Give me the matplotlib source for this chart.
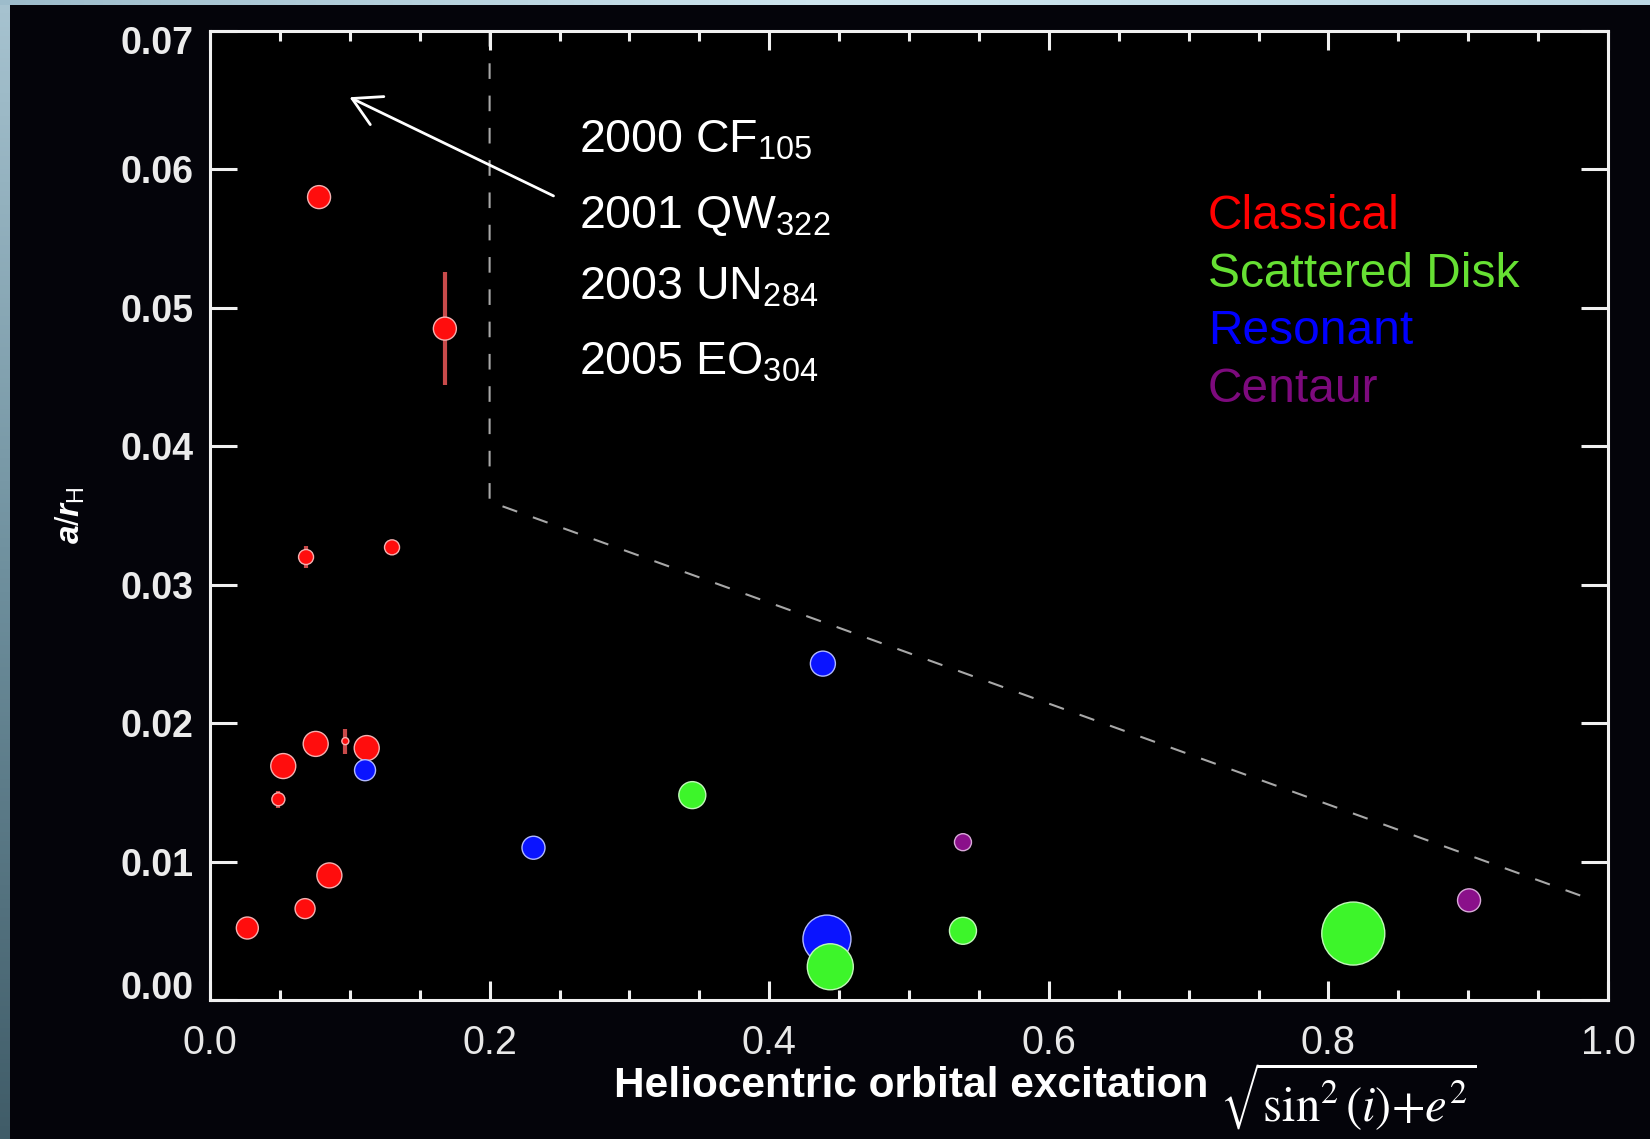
import numpy as np
import matplotlib
matplotlib.use("Agg")
import matplotlib.pyplot as plt
from matplotlib.transforms import ScaledTranslation

# Fonts
plt.rcParams['font.family'] = ['Liberation Sans', 'DejaVu Sans']
plt.rcParams['mathtext.fontset'] = 'custom'
plt.rcParams['mathtext.rm'] = 'Liberation Sans'
plt.rcParams['mathtext.it'] = 'Liberation Sans:italic:bold'
plt.rcParams['mathtext.bf'] = 'Liberation Sans:bold'

# Orbital excitation (x), a/r_H (y), error on a/r_H, relative marker size
classical_x = [0.078, 0.168, 0.0687, 0.1302, 0.0756, 0.0968, 0.1121, 0.0524, 0.0489, 0.0854, 0.068, 0.0267]
classical_y = [0.0580, 0.0485, 0.0320, 0.0327, 0.0185, 0.0187, 0.0182, 0.0169, 0.0145, 0.0090, 0.0066, 0.0052]
classical_err = [0, 0.0041, 0.0008, 0, 0, 0.0009, 0, 0, 0.0006, 0, 0, 0]
classical_size = [23, 23, 15, 15, 25, 7, 25, 25, 13, 25, 20, 22]

resonant_x = [0.1109, 0.4384, 0.2314, 0.4413]
resonant_y = [0.0166, 0.0243, 0.0110, 0.0044]
resonant_size = [21, 25, 23, 48]

scattered_x = [0.345, 0.5386, 0.4437, 0.8178]
scattered_y = [0.0148, 0.0050, 0.0024, 0.0048]
scattered_size = [27, 27, 46, 63]

centaur_x = [0.5386, 0.9006]
centaur_y = [0.0114, 0.0072]
centaur_size = [17, 23]

# Stability boundary (dashed)
boundary_x = [0.2, 0.2, 0.987]
boundary_y = [0.07, 0.036, 0.0073]

# Off-scale objects and the arrow pointing towards them
offscale_names = [r'2000 CF$_{\mathregular{105}}$', r'2001 QW$_{\mathregular{322}}$',
                  r'2003 UN$_{\mathregular{284}}$', r'2005 EO$_{\mathregular{304}}$']
arrow_tail = (0.2475, 0.0580)
arrow_head = (0.098, 0.0653)

groups = ['Classical', 'Scattered Disk', 'Resonant', 'Centaur']
group_colors = ['#ff0000', '#66e033', '#0000ff', '#7d0a7d']

x_ticks = [0.0, 0.2, 0.4, 0.6, 0.8, 1.0]
y_ticks = [0.00, 0.01, 0.02, 0.03, 0.04, 0.05, 0.06, 0.07]

W, H = 1650, 1139
fig = plt.figure(figsize=(W / 100, H / 100), dpi=100, facecolor='#04040a')

# slide border strips
grad = np.linspace(0, 1, 256).reshape(-1, 1)
sx = fig.add_axes([0, 0, 10 / W, 1])
sx.imshow(grad, aspect='auto', cmap=matplotlib.colors.LinearSegmentedColormap.from_list(
    'l', ['#a7c3d0', '#6f909e', '#405c68']), extent=[0, 1, 0, 1])
sx.axis('off')
tx = fig.add_axes([0, 1 - 5 / H, 1, 5 / H])
tx.imshow(grad.T, aspect='auto', cmap=matplotlib.colors.LinearSegmentedColormap.from_list(
    't', ['#9dbccb', '#cfe6ef', '#bcd8e4']), extent=[0, 1, 0, 1])
tx.axis('off')

ax = fig.add_axes([210 / W, 1 - 1000 / H, 1398 / W, 969 / H])
ax.set_facecolor('#000000')


def to_area(sizes):
    return [(d * 0.72) ** 2 for d in sizes]


# error bars first, then markers
ex = [x for x, e in zip(classical_x, classical_err) if e > 0]
ey = [y for y, e in zip(classical_y, classical_err) if e > 0]
ee = [e for e in classical_err if e > 0]
ax.errorbar(ex, ey, yerr=ee, fmt='none', ecolor='#c84a4a', elinewidth=3, capsize=0, zorder=2)

ax.scatter(classical_x, classical_y, s=to_area(classical_size), c='#ff0d0d',
           edgecolors='#f4b0b0', linewidths=1, zorder=3)
ax.scatter(resonant_x, resonant_y, s=to_area(resonant_size), c='#0a14ff',
           edgecolors='#b0b8ff', linewidths=1, zorder=4)
ax.scatter(scattered_x, scattered_y, s=to_area(scattered_size), c='#3df52a',
           edgecolors='#c0f8b8', linewidths=1, zorder=5)
ax.scatter(centaur_x, centaur_y, s=to_area(centaur_size), c='#8a108a',
           edgecolors='#d8a8d8', linewidths=1, zorder=6)

ax.plot(boundary_x, boundary_y, color='#a8a8a8', lw=1.5, dashes=(7.5, 8), zorder=1)

ax.annotate('', xy=arrow_head, xytext=arrow_tail,
            arrowprops=dict(arrowstyle='->,head_length=0.5,head_width=0.28',
                            color='white', lw=2, mutation_scale=40))

name_y = [0.8741, 0.7967, 0.7224, 0.645]
for name, yy in zip(offscale_names, name_y):
    ax.text(0.264, yy, name, transform=ax.transAxes, color='white',
            fontsize=33.5, ha='left', va='baseline')

legend_y = [0.7957, 0.7358, 0.6770, 0.6171]
for g, col, yy in zip(groups, group_colors, legend_y):
    ax.text(0.7139, yy, g, transform=ax.transAxes, color=col,
            fontsize=34.5, ha='left', va='baseline')

# axes styling
ax.set_xlim(0, 1.0)
ax.set_ylim(0, 0.07)
ax.set_xticks(x_ticks)
ax.set_xticks(np.arange(0.05, 1.0, 0.05), minor=True)
ax.set_yticks(y_ticks)
ax.set_xticklabels([f'{v:.1f}' for v in x_ticks])
ax.set_yticklabels([f'{v:.2f}' for v in y_ticks])
for sp in ax.spines.values():
    sp.set_color('#f0f0f0')
    sp.set_linewidth(2.2)
ax.tick_params(axis='x', which='major', direction='in', length=14, width=2.2,
               top=True, bottom=True, color='#f0f0f0', labelcolor='#e8e8e8',
               labelsize=28.5, pad=17)
ax.tick_params(axis='x', which='minor', direction='in', length=7, width=2.2,
               top=True, bottom=True, color='#f0f0f0')
ax.tick_params(axis='y', which='major', direction='in', length=19.5, width=2.2,
               left=True, right=True, color='#f0f0f0', labelcolor='#ececec',
               labelsize=27, pad=12)
for lab in ax.get_yticklabels():
    lab.set_fontweight('bold')

# keep the end labels inside the axis range
yt = ax.yaxis.get_major_ticks()
yt[0].label1.set_transform(yt[0].label1.get_transform() +
                           ScaledTranslation(0, 0.15, fig.dpi_scale_trans))
yt[-1].label1.set_transform(yt[-1].label1.get_transform() +
                            ScaledTranslation(0, -0.085, fig.dpi_scale_trans))

# axis titles
ax.text(0.7139, -0.1001, 'Heliocentric orbital excitation', transform=ax.transAxes,
        color='white', fontsize=30.5, fontweight='bold', ha='right', va='baseline')
ax.text(0.7225, -0.1259, r'$\sqrt{\sin^2(i){+}e^2}$', transform=ax.transAxes,
        color='white', fontsize=35, ha='left', va='baseline', math_fontfamily='stix')
ax.text(-0.1001, 0.5, r'$a/r_{\mathregular{H}}$', transform=ax.transAxes,
        color='white', fontsize=24, rotation=90, ha='center', va='center')

fig.savefig('out.png', dpi=100, facecolor=fig.get_facecolor())
